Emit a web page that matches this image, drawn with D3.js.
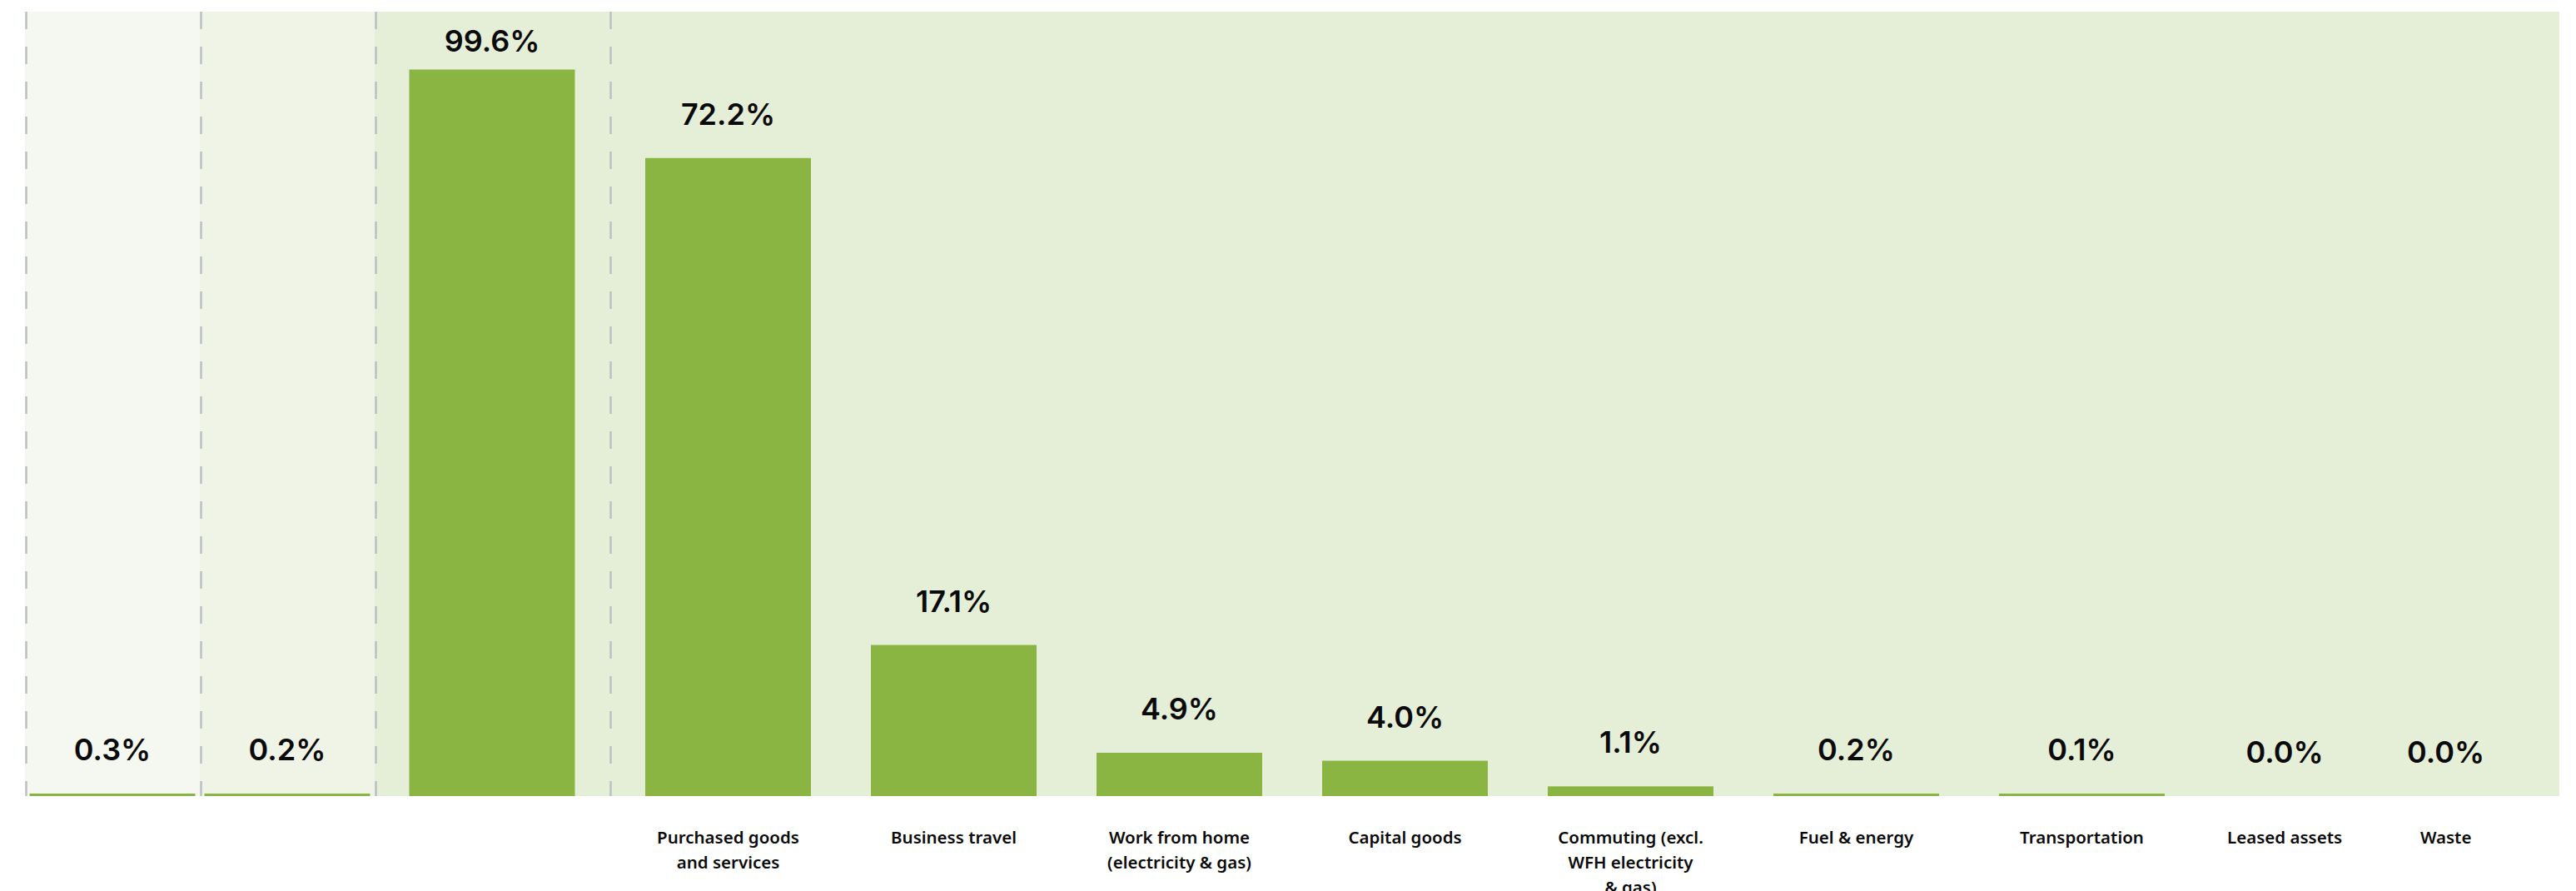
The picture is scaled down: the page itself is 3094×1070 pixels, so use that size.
<!DOCTYPE html>
<html lang="en">
  <head>
    <meta charset="UTF-8" />
    <title>Emissions share by scope and category</title>
    <script src="https://d3js.org/d3.v7.min.js"></script>
    <style>
      html,
      body {
        margin: 0;
        padding: 0;
        background: #fff;
      }
      .value-label {
        font-family: Inter, "Noto Sans", sans-serif;
        font-weight: 600;
        font-size: 36px;
        fill: #0a0a0a;
        text-anchor: middle;
      }
      .cat-label {
        font-family: "Noto Sans", sans-serif;
        font-weight: 600;
        font-size: 20.5px;
        fill: #0a0a0a;
        text-anchor: middle;
      }
      .bar {
        fill: #8ab542;
      }
      .divider {
        stroke: #bac1c4;
        stroke-width: 2.5px;
        stroke-dasharray: 21 21;
      }
    </style>
  </head>
  <body>
    <div id="chart"></div>

    <script>
      // left panel: three scopes (no category labels shown)
      const scopeKeys = ["scope1", "scope2", "scope3"];
      const scopeValues = [0.3, 0.2, 99.6];

      // right panel: breakdown of the 99.6%
      const categories = [
        "Purchased goods\nand services",
        "Business travel",
        "Work from home\n(electricity & gas)",
        "Capital goods",
        "Commuting (excl.\nWFH electricity\n& gas)",
        "Fuel & energy",
        "Transportation",
        "Leased assets",
        "Waste",
      ];
      const categoryValues = [72.2, 17.1, 4.9, 4.0, 1.1, 0.2, 0.1, 0.0, 0.0];

      const width = 3094,
        height = 1070;
      const baseline = 956,
        panelTop = 14,
        barW = 199,
        gap = 72;
      // column edges of the left panel, then start/end of the right panel
      const colEdges = [30, 240, 450, 732];
      const panelRight = 3074;
      const colFills = ["#f5f8f1", "#f0f4e7", "#e5efd8"];

      const fmt = (v) => d3.format(".1f")(v) + "%";

      const svg = d3
        .select("#chart")
        .append("svg")
        .attr("width", width)
        .attr("height", height);

      // backgrounds
      svg
        .selectAll("rect.bg")
        .data(scopeKeys)
        .enter()
        .append("rect")
        .attr("class", "bg")
        .attr("x", (d, i) => colEdges[i])
        .attr("y", panelTop)
        .attr("width", (d, i) =>
          i < 2 ? colEdges[i + 1] - colEdges[i] : panelRight - colEdges[i]
        )
        .attr("height", baseline - panelTop)
        .attr("fill", (d, i) => colFills[i]);

      // dashed dividers
      svg
        .selectAll("line.divider")
        .data(colEdges)
        .enter()
        .append("line")
        .attr("class", "divider")
        .attr("x1", (d) => d + 1.5)
        .attr("x2", (d) => d + 1.5)
        .attr("y1", panelTop)
        .attr("y2", baseline);

      // scales
      const xLeft = d3
        .scaleOrdinal()
        .domain(scopeKeys)
        .range(scopeKeys.map((d, i) => (colEdges[i] + colEdges[i + 1]) / 2));
      const yLeft = d3.scaleLinear().domain([0, 100]).range([baseline, 80]);
      const yRight = d3.scaleLinear().domain([0, 80]).range([baseline, 107]);

      // tiny but non-zero values stay visible
      const barTop = (y, v) =>
        v > 0 ? Math.min(y(v), baseline - 3) : baseline;

      // left bars
      svg
        .selectAll("rect.left")
        .data(scopeValues)
        .enter()
        .append("rect")
        .attr("class", "bar left")
        .attr("x", (d, i) => xLeft(scopeKeys[i]) - barW / 2)
        .attr("y", (d) => barTop(yLeft, d))
        .attr("width", barW)
        .attr("height", (d) => baseline - barTop(yLeft, d));

      svg
        .selectAll("text.left")
        .data(scopeValues)
        .enter()
        .append("text")
        .attr("class", "value-label left")
        .attr("x", (d, i) => xLeft(scopeKeys[i]))
        .attr("y", (d) => Math.max(barTop(yLeft, d) - 40, 62))
        .text(fmt);

      // right panel items, laid out side by side like flex items
      const items = svg
        .selectAll("g.item")
        .data(categories)
        .enter()
        .append("g")
        .attr("class", "item");

      items
        .append("text")
        .attr("class", "value-label")
        .attr("y", (d, i) =>
          Math.max(barTop(yRight, categoryValues[i]) - 40, 62)
        )
        .text((d, i) => fmt(categoryValues[i]));

      const catText = items
        .append("text")
        .attr("class", "cat-label")
        .attr("y", 1013);
      catText
        .selectAll("tspan")
        .data((d) => d.split("\n"))
        .enter()
        .append("tspan")
        .attr("x", 0)
        .attr("dy", (d, i) => (i === 0 ? 0 : 30))
        .text((d) => d);

      // item width: bar width, or the widest text when there is no bar
      const itemWidths = categories.map((c, i) => {
        if (categoryValues[i] > 0) return barW;
        const node = items.nodes()[i];
        let w = 0;
        d3.select(node)
          .selectAll("text")
          .each(function () {
            w = Math.max(w, this.getBBox().width);
          });
        return w + 6;
      });
      const starts = [775];
      itemWidths.slice(0, -1).forEach((w, i) => starts.push(starts[i] + w + gap));

      const xRight = d3
        .scaleOrdinal()
        .domain(categories)
        .range(categories.map((c, i) => starts[i] + itemWidths[i] / 2));

      items.attr("transform", (d) => `translate(${xRight(d)},0)`);

      items
        .insert("rect", "text")
        .attr("class", "bar")
        .attr("x", -barW / 2)
        .attr("y", (d, i) => barTop(yRight, categoryValues[i]))
        .attr("width", (d, i) => (categoryValues[i] > 0 ? barW : 0))
        .attr("height", (d, i) => baseline - barTop(yRight, categoryValues[i]));
    </script>
  </body>
</html>
